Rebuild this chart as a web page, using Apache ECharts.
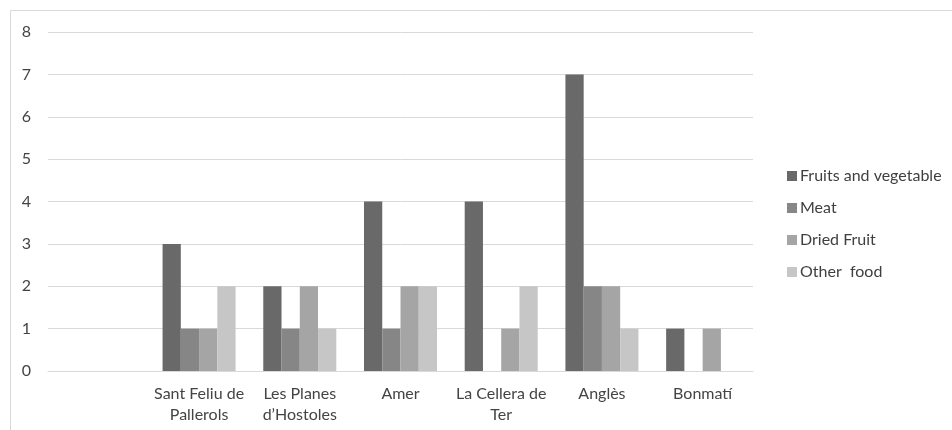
<!DOCTYPE html>
<html>
<head>
<meta charset="utf-8">
<script src="https://cdn.jsdelivr.net/npm/echarts@6/dist/echarts.min.js"></script>
<style>
  html, body { margin: 0; padding: 0; background: #fff; }
  #chart { width: 952px; height: 430px; }
</style>
</head>
<body>
<div id="chart"></div>
<script>
// Towns (first slot intentionally left blank)
const categories = ['', 'Sant Feliu de\nPallerols', 'Les Planes\nd\u2019Hostoles', 'Amer', 'La Cellera de\nTer', 'Angl\u00e8s', 'Bonmat\u00ed'];

// Number of stalls per product type
const fruitsVeg = [null, 3, 2, 4, 4, 7, 1];
const meat      = [null, 1, 1, 1, null, 2, null];
const driedFruit= [null, 1, 2, 2, 1, 2, 1];
const otherFood = [null, 2, 1, 2, 2, 1, null];

const seriesNames = ['Fruits and vegetable', 'Meat', 'Dried Fruit', 'Other  food'];
const seriesData = [fruitsVeg, meat, driedFruit, otherFood];
const colors = ['#696969', '#868686', '#a5a5a5', '#c6c6c6'];

const yTicks = { min: 0, max: 8, interval: 1 };

const FONT = 'Lato, "Open Sans", sans-serif';

const chart = echarts.init(document.getElementById('chart'));
chart.setOption({
  animation: false,
  color: colors,
  textStyle: { fontFamily: FONT },
  graphic: [{
    type: 'rect',
    shape: { x: 10.5, y: 10.5, width: 1000, height: 1000 },
    style: { fill: 'none', stroke: '#d9d9d9', lineWidth: 1 },
    silent: true
  }],
  grid: { left: 48, right: 199, top: 32, bottom: 59, containLabel: false },
  legend: {
    orient: 'vertical',
    left: 782,
    top: 163,
    itemWidth: 10,
    itemHeight: 10,
    itemGap: 16,
    icon: 'rect',
    textStyle: { fontSize: 16, color: '#3f3f3f', fontFamily: FONT, padding: [0, 0, 0, -2] },
    data: seriesNames
  },
  xAxis: {
    type: 'category',
    data: categories,
    axisLine: { show: true, lineStyle: { color: '#d9d9d9', width: 1 } },
    axisTick: { show: false },
    axisLabel: {
      interval: 0,
      color: '#444',
      fontSize: 16,
      lineHeight: 21,
      margin: 12,
      fontFamily: FONT
    }
  },
  yAxis: {
    type: 'value',
    min: yTicks.min,
    max: yTicks.max,
    interval: yTicks.interval,
    axisLine: { show: false },
    axisTick: { show: false },
    splitLine: { lineStyle: { color: '#d9d9d9', width: 1 } },
    axisLabel: { color: '#444', fontSize: 16, margin: 17, fontFamily: FONT }
  },
  series: seriesNames.map((name, i) => ({
    name,
    type: 'bar',
    data: seriesData[i],
    barGap: '0%',
    barCategoryGap: '27.5%',
    itemStyle: { color: colors[i] }
  }))
});
</script>
</body>
</html>
